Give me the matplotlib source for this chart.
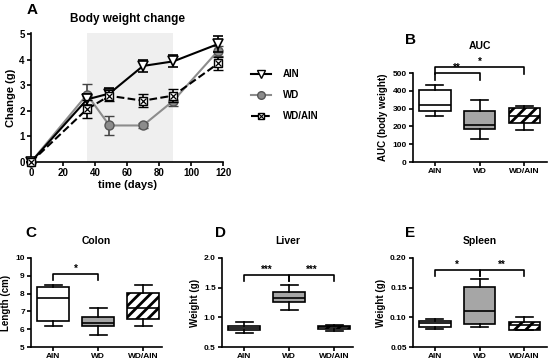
import matplotlib
matplotlib.use("Agg")
import matplotlib.pyplot as plt
from matplotlib.lines import Line2D

plt.rcParams['font.family'] = ['Liberation Sans', 'DejaVu Sans']
plt.rcParams['font.weight'] = 'bold'
plt.rcParams['axes.labelweight'] = 'bold'
plt.rcParams['axes.titleweight'] = 'bold'
plt.rcParams['hatch.linewidth'] = 2.0
plt.rcParams['axes.linewidth'] = 1.2

# Panel A: body weight change over time
days = [0, 35, 49, 70, 89, 117]
ain_mean = [0, 2.45, 2.68, 3.76, 3.94, 4.62]
ain_err = [0, 0.2, 0.2, 0.25, 0.24, 0.32]
wd_mean = [0, 2.64, 1.43, 1.43, 2.40, 4.36]
wd_err = [0, 0.40, 0.38, 0.08, 0.20, 0.20]
wdain_mean = [0, 2.07, 2.59, 2.40, 2.60, 3.86]
wdain_err = [0, 0.35, 0.22, 0.25, 0.25, 0.26]
diet_start, diet_end = 35, 89

# box panels: [whislo, q1, med, q3, whishi] per group
groups = ['AIN', 'WD', 'WD/AIN']
auc_stats = [[260, 288, 320, 405, 430], [127, 183, 210, 285, 350], [182, 221, 257, 303, 315]]
colon_stats = [[6.18, 6.45, 7.73, 8.38, 8.5], [5.68, 6.2, 6.33, 6.66, 7.2], [6.2, 6.6, 7.2, 8.03, 8.5]]
liver_stats = [[0.73, 0.79, 0.82, 0.86, 0.92], [1.13, 1.26, 1.32, 1.43, 1.55], [0.765, 0.80, 0.83, 0.86, 0.87]]
spleen_stats = [[0.081, 0.084, 0.090, 0.094, 0.098], [0.084, 0.088, 0.111, 0.151, 0.165], [0.078, 0.079, 0.087, 0.092, 0.100]]

# significance brackets: (group a, group b, height, drop, label)
auc_sig = [(1, 2, 500, 458, '**'), (1, 3, 532, 495, '*')]
colon_sig = [(1, 2, 9.1, 8.76, '*')]
liver_sig = [(1, 2, 1.71, 1.61, '***'), (2, 3, 1.71, 1.61, '***')]
spleen_sig = [(1, 2, 0.180, 0.170, '*'), (2, 3, 0.180, 0.170, '**')]

W, H = 550, 363
fig = plt.figure(figsize=(W / 100, H / 100), dpi=100)


def px_axes(left, top, right, bottom):
    return fig.add_axes([left / W, 1 - bottom / H, (right - left) / W, (bottom - top) / H])


def style(ax, fs=6.5):
    ax.spines['top'].set_visible(False)
    ax.spines['right'].set_visible(False)
    ax.tick_params(direction='out', length=3, width=1.2, labelsize=fs, pad=1.5)


# ---- A ----
ax = px_axes(31, 33, 223, 162)
style(ax, 7)
ax.axvspan(diet_start, diet_end, color='#efefef', zorder=0, lw=0)
eb = dict(capsize=3.5, elinewidth=1.2, capthick=1.2, clip_on=False)
ax.errorbar(days, ain_mean, yerr=ain_err, color='black', lw=1.5, marker='v', ms=7,
            mfc='white', mec='black', mew=1.2, zorder=4, **eb)
ax.errorbar(days, wd_mean, yerr=wd_err, color='#8c8c8c', ecolor='#444444', lw=1.5, marker='o',
            ms=6.5, mfc='#8c8c8c', mec='#555555', mew=1, zorder=3, **eb)
ax.errorbar(days, wdain_mean, yerr=wdain_err, color='black', lw=1.5, ls='--', marker='s', ms=5.5,
            mfc='white', mec='black', mew=1, zorder=5, **eb)
ax.plot(days, wdain_mean, ls='none', marker='x', ms=4.5, mec='black', mew=0.9, zorder=6, clip_on=False)
ax.set_xlim(0, 120)
ax.set_ylim(0, 5.05)
ax.set_xticks(range(0, 121, 20))
ax.set_yticks(range(0, 6))
ax.set_xlabel('time (days)', fontsize=8, labelpad=1)
ax.set_ylabel('Change (g)', fontsize=8, labelpad=2)
ax.set_title('Body weight change', fontsize=8.5, pad=8)
fig.text(27 / W, 1 - 10 / H, 'A', fontsize=11, fontweight='bold', ha='left', va='center')

handles = [
    Line2D([], [], color='black', lw=1.5, marker='v', ms=6, mfc='white', mec='black'),
    Line2D([], [], color='#8c8c8c', lw=1.5, marker='o', ms=5.5, mfc='#8c8c8c', mec='#555555'),
    (Line2D([], [], color='black', lw=1.5, ls='--', marker='s', ms=5, mfc='white', mec='black'),
     Line2D([], [], ls='none', marker='x', ms=4, mec='black', mew=0.8)),
]
fig.legend(handles, groups, loc='upper left', bbox_to_anchor=(251 / W, 1 - 69 / H), frameon=False,
           fontsize=7, handlelength=2.1, handletextpad=1.2, labelspacing=1.15, borderpad=0,
           borderaxespad=0)


def box_panel(ax, stats, sig, title, ylabel, yticks, fmt, letter, lx, ly, xmax, tpad=10):
    style(ax, 6)
    data = []
    for s in stats:
        data.append(dict(whislo=s[0], q1=s[1], med=s[2], q3=s[3], whishi=s[4], fliers=[]))
    bp = ax.bxp(data, positions=[1, 2, 3], widths=0.7, patch_artist=True, showfliers=False,
                capwidths=0.38,
                boxprops=dict(lw=1.2, edgecolor='black'),
                medianprops=dict(color='black', lw=1.2),
                whiskerprops=dict(color='black', lw=1.2),
                capprops=dict(color='black', lw=1.2))
    fills = ['white', '#a6a6a6', 'white']
    for patch, c in zip(bp['boxes'], fills):
        patch.set_facecolor(c)
    bp['boxes'][2].set_hatch('///')
    ax.set_xlim(0.51, xmax)
    ax.set_ylim(yticks[0], yticks[-1])
    ax.set_yticks(yticks)
    ax.set_yticklabels([fmt.format(t) for t in yticks])
    ax.set_xticks([1, 2, 3])
    ax.set_xticklabels(groups)
    ax.set_title(title, fontsize=7.5, pad=tpad)
    ax.set_ylabel(ylabel, fontsize=7, labelpad=3)
    rng = yticks[-1] - yticks[0]
    for a, b, h, d, lab in sig:
        ax.plot([a, a, b, b], [d, h, h, d], color='black', lw=1.2, clip_on=False)
        ax.text((a + b) / 2, h + rng * 0.005, lab, ha='center', va='bottom', fontsize=7)
    fig.text(lx / W, 1 - ly / H, letter, fontsize=11, fontweight='bold', ha='left', va='center')


ax = px_axes(413, 73, 547, 162)
box_panel(ax, auc_stats, auc_sig, 'AUC', 'AUC (body weight)', [0, 100, 200, 300, 400, 500], '{:g}',
          'B', 405, 40, 3.51, tpad=17)

ax = px_axes(31, 258, 162, 347)
box_panel(ax, colon_stats, colon_sig, 'Colon', 'Length (cm)', [5, 6, 7, 8, 9, 10], '{:g}',
          'C', 25, 233, 3.42)

ax = px_axes(222, 258, 353, 347)
box_panel(ax, liver_stats, liver_sig, 'Liver', 'Weight (g)', [0.5, 1.0, 1.5, 2.0], '{:.1f}',
          'D', 215, 233, 3.42)

ax = px_axes(413, 258, 547, 347)
box_panel(ax, spleen_stats, spleen_sig, 'Spleen', 'Weight (g)', [0.05, 0.10, 0.15, 0.20], '{:.2f}',
          'E', 405, 233, 3.51)

fig.savefig('out.png', dpi=100)
